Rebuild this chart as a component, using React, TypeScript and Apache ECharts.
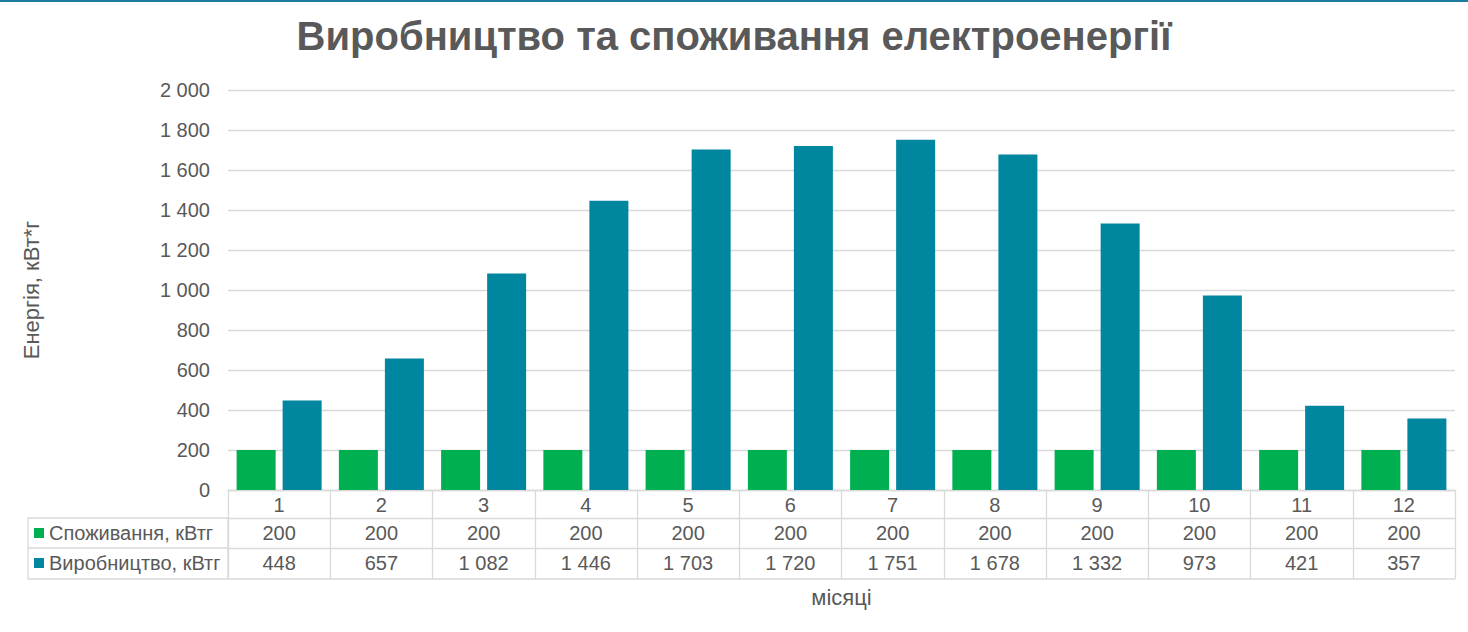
import React, { useEffect, useRef } from "react";
import * as echarts from "echarts";

const months = ["1", "2", "3", "4", "5", "6", "7", "8", "9", "10", "11", "12"];
const consumption = [200, 200, 200, 200, 200, 200, 200, 200, 200, 200, 200, 200];
const production = [448, 657, 1082, 1446, 1703, 1720, 1751, 1678, 1332, 973, 421, 357];
const seriesNames = ["Споживання, кВтг", "Виробництво, кВтг"];
const titleText = "Виробництво та споживання електроенергії";
const yName = "Енергія, кВт*г";
const xName = "місяці";

const FONT = "'Liberation Sans', Arial, sans-serif";
const TXT = "#595959";
const GRIDC = "#d9d9d9";
const GREEN = "#00B050";
const TEAL = "#00869E";

const fmt = (v: number) => String(v).replace(/\B(?=(\d{3})+(?!\d))/g, " ");

const W = 1468;
const H = 632;
const L = 228;
const R = 1455;
const T = 90;
const B = 490;

export default function App() {
  const ref = useRef<HTMLDivElement>(null);
  useEffect(() => {
    document.body.style.margin = "0";
    const chart = echarts.init(ref.current!, null, { renderer: "svg" });
    const xAx = (offset: number, tickLen: number, fn: (v: string, i: number) => string) => ({
      type: "category",
      data: months,
      gridIndex: 0,
      position: "bottom",
      offset,
      boundaryGap: true,
      axisLine: { show: true, lineStyle: { color: GRIDC, width: 1.3 } },
      axisTick: { show: true, interval: 0, length: tickLen, lineStyle: { color: GRIDC, width: 1.3 } },
      axisLabel: {
        interval: 0,
        margin: 5,
        fontSize: 20,
        color: TXT,
        fontFamily: FONT,
        formatter: fn,
      },
      splitLine: { show: false },
    });
    chart.setOption({
      animation: false,
      textStyle: { fontFamily: FONT },
      title: {
        text: titleText,
        left: "center",
        top: 16,
        padding: 0,
        textStyle: { fontSize: 40, fontWeight: "bold", color: TXT, fontFamily: FONT },
      },
      legend: {
        orient: "vertical",
        left: 34,
        top: 523,
        padding: 0,
        itemWidth: 10,
        itemHeight: 10,
        itemGap: 10,
        icon: "rect",
        data: seriesNames,
        textStyle: { fontSize: 20, color: TXT, fontFamily: FONT, lineHeight: 20 },
        selectedMode: false,
      },
      grid: { left: L, right: W - R, top: T, bottom: H - B, containLabel: false },
      xAxis: [
        xAx(0, 28, (v: string) => v),
        xAx(28, 30, (_v: string, i: number) => fmt(consumption[i])),
        xAx(58, 31, (_v: string, i: number) => fmt(production[i])),
      ],
      yAxis: {
        type: "value",
        min: 0,
        max: 2000,
        interval: 200,
        name: yName,
        nameLocation: "middle",
        nameGap: 186,
        nameTextStyle: { fontSize: 22, color: TXT, fontFamily: FONT },
        axisLine: { show: false },
        axisTick: { show: false },
        axisLabel: { fontSize: 20, color: TXT, fontFamily: FONT, margin: 18, formatter: (v: number) => fmt(v) },
        splitLine: { lineStyle: { color: GRIDC, width: 1.3 } },
      },
      series: [
        {
          name: seriesNames[0],
          type: "bar",
          data: consumption,
          xAxisIndex: 0,
          barWidth: 39,
          barGap: "18%",
          itemStyle: { color: GREEN },
        },
        {
          name: seriesNames[1],
          type: "bar",
          data: production,
          xAxisIndex: 0,
          barWidth: 39,
          barGap: "18%",
          itemStyle: { color: TEAL },
        },
      ],
      graphic: [
        { type: "rect", shape: { x: 0, y: 0, width: W, height: 2 }, style: { fill: "#1B7E9E" } },
        {
          type: "rect",
          shape: { x: 28, y: 518, width: L - 28, height: 61 },
          style: { fill: "none", stroke: GRIDC, lineWidth: 1.3 },
        },
        { type: "line", shape: { x1: 28, y1: 548, x2: L, y2: 548 }, style: { stroke: GRIDC, lineWidth: 1.3 } },
        { type: "line", shape: { x1: L, y1: 579, x2: R, y2: 579 }, style: { stroke: GRIDC, lineWidth: 1.3 } },
        {
          type: "text",
          x: (L + R) / 2,
          y: 597,
          style: { text: xName, fontSize: 22, fill: TXT, fontFamily: FONT, align: "center", verticalAlign: "middle" },
        },
      ],
    });
    return () => chart.dispose();
  }, []);
  return <div ref={ref} style={{ position: "absolute", left: 0, top: 0, width: W, height: H }} />;
}
